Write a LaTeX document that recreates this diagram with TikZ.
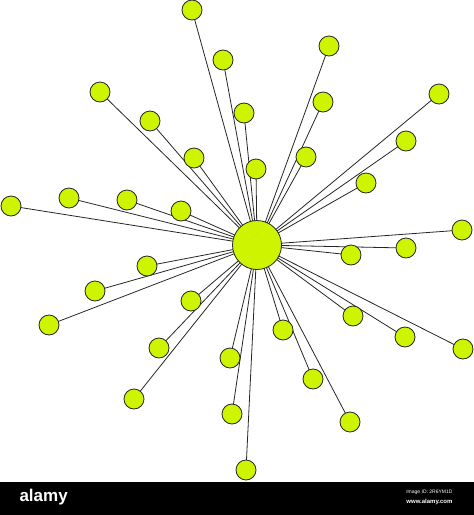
\documentclass[tikz,border=0pt]{standalone}
\usepackage{fontspec}
\setsansfont{Liberation Sans}
\usepackage{tikz}
\usetikzlibrary{backgrounds}
\definecolor{limeleaf}{RGB}{206,244,0}
\tikzset{
    leaf/.style={circle, draw=black!85, line width=0.8pt, fill=limeleaf,
                 minimum size=20pt, inner sep=0pt},
    hub/.style={circle, draw=black!85, line width=0.8pt, fill=limeleaf,
                minimum size=49pt, inner sep=0pt},
    spoke/.style={draw=black!85, line width=0.8pt}
}

\begin{document}
\begin{tikzpicture}[x=1pt, y=-1pt]
            \useasboundingbox (0,0) rectangle (474,515);

            \node[hub] (c) at (257,245) {};

            % upper half
            \node[leaf] (l1)  at (192, 10) {};
            \node[leaf] (l2)  at (223, 60) {};
            \node[leaf] (l3)  at (329, 46) {};
            \node[leaf] (l4)  at (100, 92) {};
            \node[leaf] (l5)  at (150,121) {};
            \node[leaf] (l6)  at (244,113) {};
            \node[leaf] (l7)  at (323,102) {};
            \node[leaf] (l8)  at (439, 94) {};
            \node[leaf] (l9)  at (194,158) {};
            \node[leaf] (l10) at (256,169) {};
            \node[leaf] (l11) at (306,157) {};
            \node[leaf] (l12) at (406,141) {};
            \node[leaf] (l13) at (366,183) {};
            \node[leaf] (l14) at ( 11,206) {};
            \node[leaf] (l15) at ( 69,198) {};
            \node[leaf] (l16) at (127,200) {};
            \node[leaf] (l17) at (181,211) {};
            \node[leaf] (l18) at (462,230) {};

            % lower half
            \node[leaf] (l19) at (351,255) {};
            \node[leaf] (l20) at (406,248) {};
            \node[leaf] (l21) at (147,266) {};
            \node[leaf] (l22) at ( 95,291) {};
            \node[leaf] (l23) at (191,301) {};
            \node[leaf] (l24) at ( 49,325) {};
            \node[leaf] (l25) at (353,316) {};
            \node[leaf] (l26) at (405,337) {};
            \node[leaf] (l27) at (463,349) {};
            \node[leaf] (l28) at (159,348) {};
            \node[leaf] (l29) at (230,358) {};
            \node[leaf] (l30) at (283,330) {};
            \node[leaf] (l31) at (313,379) {};
            \node[leaf] (l32) at (134,399) {};
            \node[leaf] (l33) at (232,414) {};
            \node[leaf] (l34) at (350,422) {};
            \node[leaf] (l35) at (246,470) {};

            \begin{scope}[on background layer]
                \foreach \n in {1,...,35}
                    \draw[spoke] (c.center) -- (l\n.center);
            \end{scope}

            % footer band
            \fill[black] (0,482) rectangle (474,515);
            \node[anchor=west, text=white, font=\sffamily\bfseries\fontsize{17}{17}\selectfont]
                (brand) at (16,497) {alamy};
            \node[anchor=east, text=white, font=\sffamily\fontsize{5}{5}\selectfont]
                (imgid) at (456,492) {Image ID: 2R6YM1D};
            \node[anchor=east, text=white, font=\sffamily\bfseries\fontsize{6}{6}\selectfont]
                (site) at (456,502) {www.alamy.com};
        \end{tikzpicture}
\end{document}
